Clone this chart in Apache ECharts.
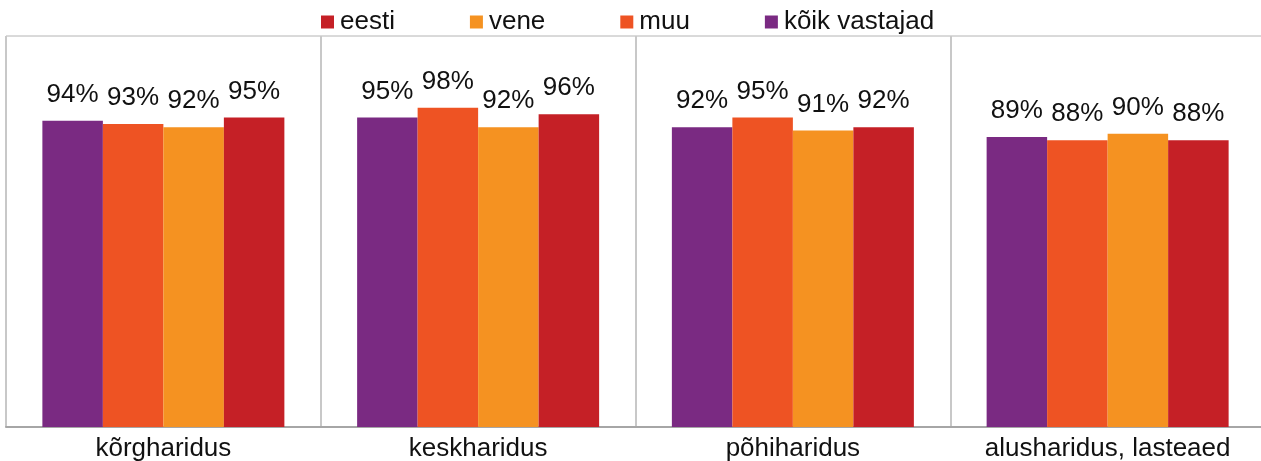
<!DOCTYPE html>
<html>
<head>
<meta charset="utf-8">
<script src="https://cdn.jsdelivr.net/npm/echarts@6/dist/echarts.min.js"></script>
<style>
  html, body { margin: 0; padding: 0; background: #fff; }
  #chart { width: 1261px; height: 461px; }
</style>
</head>
<body>
<div id="chart"></div>
<script>
// andmed
const categories = ['kõrgharidus', 'keskharidus', 'põhiharidus', 'alusharidus, lasteaed']
const koik = [94, 95, 92, 89]
const muu = [93, 98, 95, 88]
const vene = [92, 92, 91, 90]
const eesti = [95, 96, 92, 88]

const font = 'Liberation Sans, Arial, sans-serif'

function bar (name, data, color) {
  return {
    name: name,
    type: 'bar',
    data: data,
    barWidth: 60.5,
    barGap: '0%',
    itemStyle: { color: color },
    label: {
      show: true,
      position: 'top',
      distance: 13,
      formatter: '{c}%',
      fontFamily: font,
      fontSize: 26,
      color: '#111'
    }
  }
}

const chart = echarts.init(document.getElementById('chart'))
chart.setOption({
  animation: false,
  legend: {
    data: ['eesti', 'vene', 'muu', 'kõik vastajad'],
    left: 321,
    top: 9,
    padding: 0,
    icon: 'rect',
    itemWidth: 13,
    itemHeight: 13,
    itemGap: 75,
    textStyle: { fontFamily: font, fontSize: 26, color: '#111', padding: [0, 0, 0, 1] }
  },
  grid: {
    left: 6,
    top: 36,
    width: 1259,
    bottom: 34,
    outerBoundsMode: 'none',
    containLabel: false,
    show: true,
    borderColor: '#b4b4b4',
    borderWidth: 1
  },
  xAxis: {
    type: 'category',
    data: categories,
    axisLine: { lineStyle: { color: '#a6a6a6', width: 2 } },
    axisTick: { show: false },
    splitLine: { show: true, interval: 0, lineStyle: { color: '#c8c8c8', width: 2 } },
    axisLabel: { interval: 0, fontFamily: font, fontSize: 26, color: '#111', margin: 9 }
  },
  yAxis: {
    type: 'value',
    min: 0,
    max: 120,
    show: false,
    splitLine: { show: false }
  },
  series: [
    bar('kõik vastajad', koik, '#7a2a82'),
    bar('muu', muu, '#ee5323'),
    bar('vene', vene, '#f59221'),
    bar('eesti', eesti, '#c52026')
  ]
})
</script>
</body>
</html>
